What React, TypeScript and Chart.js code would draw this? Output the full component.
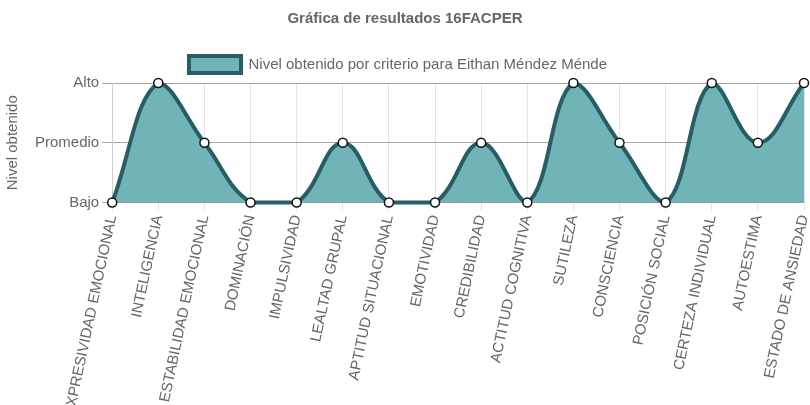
import React, { useEffect, useRef } from "react";
import { Chart, registerables } from "chart.js";

Chart.register(...registerables);

const categories = [
  "EXPRESIVIDAD EMOCIONAL",
  "INTELIGENCIA",
  "ESTABILIDAD EMOCIONAL",
  "DOMINACIÓN",
  "IMPULSIVIDAD",
  "LEALTAD GRUPAL",
  "APTITUD SITUACIONAL",
  "EMOTIVIDAD",
  "CREDIBILIDAD",
  "ACTITUD COGNITIVA",
  "SUTILEZA",
  "CONSCIENCIA",
  "POSICIÓN SOCIAL",
  "CERTEZA INDIVIDUAL",
  "AUTOESTIMA",
  "ESTADO DE ANSIEDAD",
];

const levelValues = [0, 2, 1, 0, 0, 1, 0, 0, 1, 0, 2, 1, 0, 2, 1, 2];

const levelLabels = ["Bajo", "Promedio", "Alto"];

const seriesLabel = "Nivel obtenido por criterio para Eithan Méndez Ménde";
const titleText = "Gráfica de resultados 16FACPER";
const yTitle = "Nivel obtenido";

export default function App() {
  const ref = useRef<HTMLCanvasElement | null>(null);

  useEffect(() => {
    document.body.style.margin = "0";
    if (!ref.current) return;
    const font = "Arial, 'Liberation Sans', Helvetica, sans-serif";
    Chart.defaults.font.family = font;
    Chart.defaults.font.size = 15;
    Chart.defaults.color = "#666";
    const legendShift = {
      id: "legendShift",
      afterLayout(chart: any) {
        if (chart.legend) {
          chart.legend.left -= 7;
          chart.legend.right -= 7;
        }
      },
    };
    const chart = new Chart(ref.current, {
      type: "line",
      data: {
        labels: categories,
        datasets: [
          {
            label: seriesLabel,
            data: levelValues,
            fill: "origin",
            clip: false,
            backgroundColor: "rgba(112,180,184,1)",
            borderColor: "#275d64",
            borderWidth: 4,
            tension: 0.4,
            pointRadius: 4.5,
            pointBackgroundColor: "#ffffff",
            pointBorderColor: "#111111",
            pointBorderWidth: 1.5,
          },
        ],
      },
      plugins: [legendShift],
      options: {
        animation: false,
        responsive: true,
        maintainAspectRatio: false,
        layout: { padding: { left: 0, right: 0, top: 0, bottom: 0 } },
        plugins: {
          title: {
            display: true,
            text: titleText,
            font: { size: 15, weight: "bold", family: font },
            color: "#666",
            padding: { top: 10, bottom: 18 },
          },
          legend: {
            display: true,
            labels: {
              boxWidth: 52,
              boxHeight: 17,
              font: { size: 15, family: font },
              color: "#666",
            },
          },
          tooltip: { enabled: false },
        },
        scales: {
          x: {
            grid: {
              color: "rgba(0,0,0,0.1)",
              drawTicks: true,
              tickLength: 8,
            },
            ticks: {
              minRotation: 78,
              maxRotation: 78,
              autoSkip: false,
              font: { size: 15, family: font },
              color: "#666",
            },
            afterFit: (scale: any) => {
              scale.paddingRight = 4;
            },
          },
          y: {
            min: 0,
            max: 2,
            title: {
              display: true,
              text: yTitle,
              font: { size: 15, family: font },
              color: "#666",
            },
            grid: {
              color: "rgba(0,0,0,0.35)",
              tickLength: 10,
            },
            ticks: {
              stepSize: 1,
              font: { size: 15, family: font },
              color: "#666",
              callback: (v: any) => levelLabels[Number(v)] ?? "",
            },
            afterFit: (scale: any) => {
              scale.width += 6;
            },
          },
        },
      },
    });
    return () => chart.destroy();
  }, []);

  return (
    <div style={{ width: 810, height: 405, position: "relative" }}>
      <canvas ref={ref} />
    </div>
  );
}
